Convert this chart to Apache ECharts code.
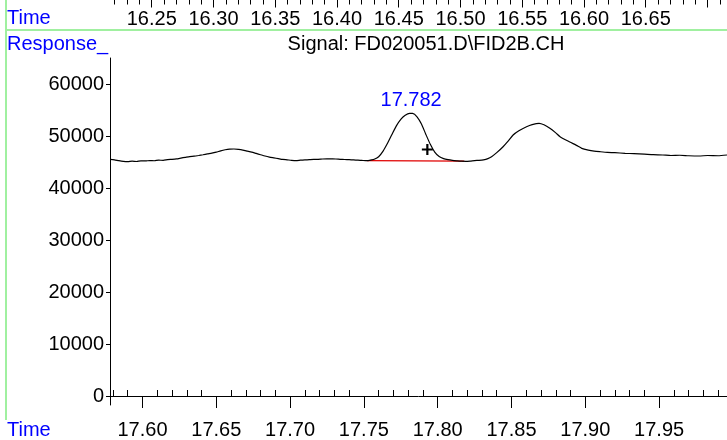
<!DOCTYPE html>
<html>
<head>
<meta charset="utf-8">
<script src="https://cdn.jsdelivr.net/npm/echarts@6/dist/echarts.min.js"></script>
<style>
html,body{margin:0;padding:0;background:#fff;}
#chart{width:727px;height:440px;}
</style>
</head>
<body>
<div id="chart"></div>
<script>
// ---- data ----
const times = [17.578,17.581,17.584,17.587,17.590,17.593,17.596,17.599,17.602,17.605,17.608,17.611,17.614,17.617,17.620,17.623,17.626,17.629,17.632,17.635,17.638,17.641,17.644,17.647,17.650,17.653,17.656,17.659,17.662,17.665,17.668,17.671,17.674,17.677,17.680,17.683,17.686,17.689,17.692,17.695,17.698,17.701,17.704,17.707,17.710,17.713,17.716,17.719,17.722,17.725,17.728,17.731,17.734,17.737,17.740,17.743,17.746,17.749,17.752,17.755,17.757,17.760,17.763,17.766,17.769,17.772,17.775,17.778,17.781,17.783,17.786,17.789,17.792,17.795,17.798,17.801,17.804,17.807,17.810,17.813,17.816,17.819,17.822,17.825,17.828,17.831,17.834,17.8365,17.840,17.8443,17.848,17.8511,17.855,17.8602,17.864,17.8687,17.872,17.876,17.880,17.8829,17.8895,17.894,17.8976,17.902,17.906,17.910,17.915,17.920,17.927,17.933,17.940,17.946,17.9525,17.958,17.964,17.970,17.977,17.983,17.990,17.996];
const response = [45500,45420,45250,45120,45060,45150,45100,45230,45200,45280,45240,45350,45330,45460,45520,45600,45750,45900,46050,46120,46250,46400,46560,46700,46900,47150,47350,47480,47500,47430,47300,47100,46900,46650,46400,46150,45950,45800,45650,45500,45420,45330,45280,45350,45400,45450,45500,45520,45580,45620,45600,45580,45520,45480,45450,45400,45350,45300,45260,45400,45520,46020,47100,48600,50300,51950,53200,54000,54360,54350,53700,52300,50300,48400,46900,46050,45650,45450,45320,45230,45150,45120,45180,45280,45330,45420,45650,46020,46800,47940,49100,50190,51000,51790,52200,52440,52150,51480,50600,49870,48850,48200,47630,47300,47100,46980,46850,46800,46670,46600,46500,46400,46350,46250,46300,46200,46150,46250,46200,46350];

const peakTime = 17.782, peakValue = 54370;
const crossTime = 17.793, crossValue = 47400;
const baselineTimes = [17.752, 17.818];
const baselineValues = [45250, 45150];

const bottomMajor = [17.60,17.65,17.70,17.75,17.80,17.85,17.90,17.95];
const bottomMinor = [17.58,17.59,17.61,17.62,17.63,17.64,17.66,17.67,17.68,17.69,17.71,17.72,17.73,17.74,17.76,17.77,17.78,17.79,17.81,17.82,17.83,17.84,17.86,17.87,17.88,17.89,17.91,17.92,17.93,17.94,17.96,17.97,17.98,17.99];
const yMajor = [0,10000,20000,30000,40000,50000,60000];
const yMinor = [2000,4000,6000,8000,12000,14000,16000,18000,22000,24000,26000,28000,32000,34000,36000,38000,42000,44000,46000,48000,52000,54000,56000,58000,62000,64000];
const topLabels = [16.25,16.30,16.35,16.40,16.45,16.50,16.55,16.60,16.65];
const topMajor = [16.25,16.30,16.35,16.40,16.45,16.50,16.55,16.60,16.65,16.70];
const topMinor = [16.22,16.23,16.24,16.26,16.27,16.28,16.29,16.31,16.32,16.33,16.34,16.36,16.37,16.38,16.39,16.41,16.42,16.43,16.44,16.46,16.47,16.48,16.49,16.51,16.52,16.53,16.54,16.56,16.57,16.58,16.59,16.61,16.62,16.63,16.64,16.66,16.67,16.68,16.69,16.71];

const titleText = 'Signal: FD020051.D\\FID2B.CH';
// ---- chart ----
const FONT = 'Liberation Sans, Arial, sans-serif';
const chart = echarts.init(document.getElementById('chart'));
const pts = times.map((t,i)=>[t,response[i]]);
const fmt2 = v => Number(v).toFixed(2);

const option = {
  animation:false,
  backgroundColor:'#fff',
  grid:[
    {left:110, top:58, right:0, bottom:35},
    {left:110, top:-10, right:0, height:6}
  ],
  xAxis:[
    {type:'value', gridIndex:0, min:17.578, max:17.996,
     axisLine:{show:true, lineStyle:{color:'#000', width:1}},
     axisTick:{show:true, length:12, customValues:bottomMajor, lineStyle:{color:'#000'}},
     axisLabel:{show:true, customValues:bottomMajor, formatter:fmt2, color:'#000', fontSize:20, fontFamily:FONT, margin:15},
     splitLine:{show:false}},
    {type:'value', gridIndex:0, min:17.578, max:17.996,
     axisLine:{show:false},
     axisTick:{show:true, length:6, customValues:bottomMinor, lineStyle:{color:'#000'}},
     axisLabel:{show:false}, splitLine:{show:false}},
    {type:'value', gridIndex:1, min:16.2162, max:16.7158, position:'bottom',
     axisLine:{show:false},
     axisTick:{show:true, length:10, customValues:topMajor, lineStyle:{color:'#000'}},
     axisLabel:{show:true, customValues:topLabels, formatter:fmt2, color:'#000', fontSize:20, fontFamily:FONT, margin:12},
     splitLine:{show:false}},
    {type:'value', gridIndex:1, min:16.2162, max:16.7158, position:'bottom',
     axisLine:{show:false},
     axisTick:{show:true, length:7, customValues:topMinor, lineStyle:{color:'#000'}},
     axisLabel:{show:false}, splitLine:{show:false}}
  ],
  yAxis:[
    {type:'value', gridIndex:0, min:-1730, max:65000,
     axisLine:{show:true, lineStyle:{color:'#000', width:1}},
     axisTick:{show:true, length:4, customValues:yMajor, lineStyle:{color:'#000'}},
     axisLabel:{show:true, customValues:yMajor, formatter:v=>String(Math.round(v)), color:'#000', fontSize:20, fontFamily:FONT, margin:6},
     splitLine:{show:false}},
    {type:'value', gridIndex:0, min:-1730, max:65000,
     axisLine:{show:false},
     axisTick:{show:true, length:2, customValues:yMinor, lineStyle:{color:'#000'}},
     axisLabel:{show:false}, splitLine:{show:false}},
    {type:'value', gridIndex:1, show:false, min:0, max:1}
  ],
  series:[
    {type:'line', xAxisIndex:0, yAxisIndex:0, data:pts, showSymbol:false, symbol:'none', smooth:0.2,
     lineStyle:{color:'#000', width:1.2}, z:3},
    {type:'line', xAxisIndex:0, yAxisIndex:0, data:baselineTimes.map((t,i)=>[t,baselineValues[i]]),
     showSymbol:false, symbol:'none', lineStyle:{color:'#e00000', width:1.3}, z:2},
    {type:'scatter', xAxisIndex:0, yAxisIndex:0, data:[[crossTime,crossValue]],
     symbol:'path://M4,0H6V4H10V6H6V10H4V6H0V4H4Z', symbolSize:11,
     itemStyle:{color:'#000', opacity:1}, z:4},
    {type:'scatter', xAxisIndex:0, yAxisIndex:0, data:[[peakTime,peakValue]],
     symbolSize:0, z:5,
     label:{show:true, position:'top', distance:3, formatter:p=>p.value[0].toFixed(3),
            color:'#0000ff', opacity:1, fontSize:20, fontFamily:FONT}}
  ],
  graphic:[
    {type:'line', shape:{x1:6, y1:30, x2:727, y2:30}, style:{stroke:'#a0f0a0', lineWidth:2}},
    {type:'line', shape:{x1:6, y1:0, x2:6, y2:420}, style:{stroke:'#a0f0a0', lineWidth:2}},
    {type:'text', left:7, top:8, style:{text:'Time', fill:'#0000ff', font:'20px '+FONT}},
    {type:'text', left:7, top:34, style:{text:'Response_', fill:'#0000ff', font:'20px '+FONT}},
    {type:'text', left:7, top:420, style:{text:'Time', fill:'#0000ff', font:'20px '+FONT}},
    {type:'text', x:426, y:44, style:{text:titleText, fill:'#000', font:'20px '+FONT, align:'center', verticalAlign:'middle'}}
  ]
};
chart.setOption(option);
</script>
</body>
</html>
